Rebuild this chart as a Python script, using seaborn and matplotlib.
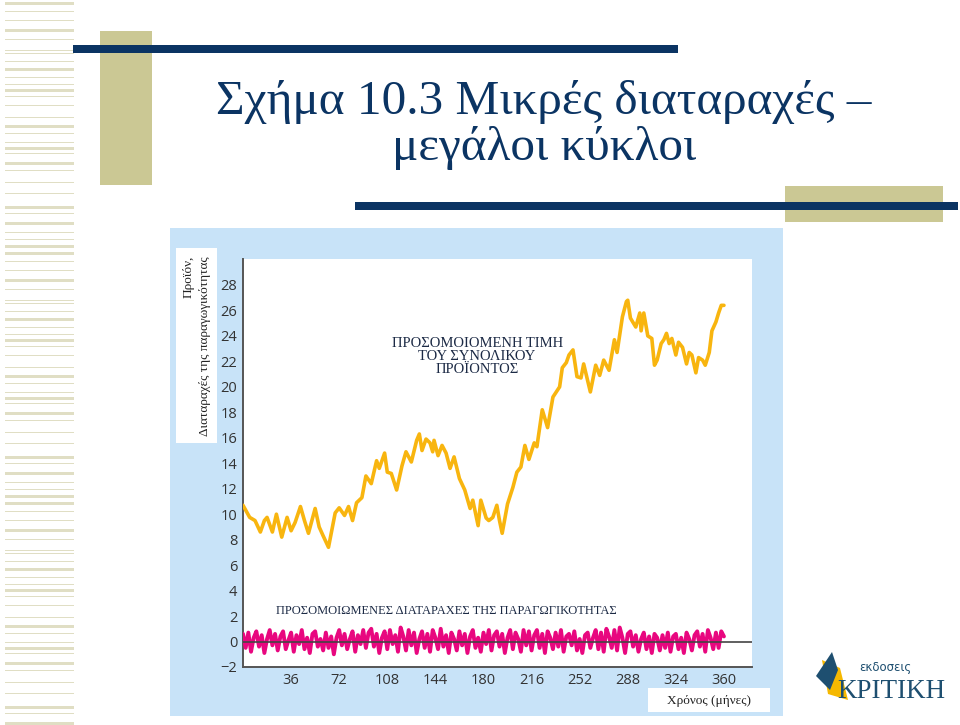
"""Σχήμα 10.3: μικρές διαταραχές παραγωγικότητας και μεγάλοι κύκλοι του προϊόντος."""
import matplotlib
matplotlib.use("Agg")
import matplotlib.pyplot as plt
from matplotlib.patches import Rectangle, Polygon
import seaborn as sns
import pandas as pd

# Προσομοιωμένη τιμή του συνολικού προϊόντος (μήνας, τιμή)
output_months = [0, 5, 9, 13, 16, 18, 22, 25, 29, 33, 36, 39, 43, 46, 49, 54, 57, 60,
                 64, 69, 72, 76, 79, 82, 85, 89, 92, 96, 100, 102, 106, 108, 111, 115,
                 119, 122, 126, 130, 132, 134, 137, 140, 142, 143, 146, 149, 152, 155,
                 158, 162, 166, 170, 172, 176, 178, 182, 184, 187, 190, 192, 194, 198,
                 202, 205, 208, 211, 214, 218, 220, 224, 228, 232, 237, 239, 242, 244,
                 247, 250, 253, 255, 260, 264, 267, 270, 274, 278, 280, 284, 287, 288,
                 290, 294, 297, 298, 300, 303, 306, 308, 310, 313, 315, 317, 319, 321,
                 324, 326, 329, 332, 334, 336, 339, 341, 344, 346, 349, 351, 354, 356,
                 358, 360]
output_values = [10.7, 9.75, 9.5, 8.6, 9.5, 9.75, 8.6, 10.0, 8.2, 9.75, 8.7, 9.35, 10.6,
                 9.5, 8.5, 10.45, 9.0, 8.3, 7.4, 10.1, 10.5, 9.9, 10.6, 9.5, 10.9, 11.3,
                 13.0, 12.4, 14.2, 13.6, 14.8, 13.3, 13.2, 11.9, 13.8, 14.9, 14.1, 15.8,
                 16.3, 15.0, 15.9, 15.6, 14.9, 15.8, 14.6, 15.4, 14.8, 13.6, 14.5, 12.8,
                 11.9, 10.45, 11.1, 9.1, 11.1, 9.7, 9.5, 9.75, 10.7, 9.5, 8.5, 10.8,
                 12.1, 13.3, 13.7, 15.4, 14.3, 15.6, 15.3, 18.2, 16.8, 19.2, 20.0, 21.5,
                 21.9, 22.5, 22.9, 20.8, 20.7, 21.8, 19.6, 21.7, 20.9, 22.1, 21.3, 23.7,
                 22.7, 25.5, 26.7, 26.8, 25.4, 24.7, 25.8, 24.4, 25.8, 24.0, 23.8, 21.7,
                 22.1, 23.4, 23.7, 24.2, 23.4, 23.8, 22.5, 23.5, 23.1, 21.8, 22.7, 22.5,
                 21.1, 22.3, 22.1, 21.7, 22.7, 24.4, 25.1, 25.8, 26.4, 26.4]

# Προσομοιωμένες διαταραχές της παραγωγικότητας (κάθε δύο μήνες, 0..360)
shock_months = list(range(0, 361, 2))
shock_values = [
    0.6, -0.5, 0.7, -0.8, 0.3, 0.8, -0.4, 0.5, -0.9, 0.2,
    0.9, -0.3, 0.6, -0.7, 0.4, 0.8, -0.6, 0.1, 0.7, -0.8,
    0.5, -0.2, 0.9, -0.6, 0.3, -0.9, 0.6, 0.8, -0.4, 0.2,
    -0.7, 0.7, -0.5, 0.4, -1.0, 0.3, 0.9, -0.3, 0.6, -0.6,
    0.2, 0.8, -0.8, 0.5, -0.2, 0.9, -0.5, 0.7, 1.0, -0.4,
    0.6, -0.9, 0.3, 0.8, -0.6, 0.9, -0.2, 0.5, -0.8, 1.1,
    0.4, -0.7, 0.9, -0.3, 0.7, -0.9, 0.2, 0.8, -0.5, 0.6,
    -0.8, 0.9, 0.3, -0.6, 1.0, -0.4, 0.5, -0.9, 0.7, 0.2,
    -0.7, 0.8, -0.3, 0.6, -0.9, 0.4, 0.9, -0.5, 0.3, -0.8,
    0.7, -0.2, 0.9, -0.7, 0.5, 0.8, -0.4, 0.6, -0.9, 0.3,
    0.9, -0.6, 0.7, 0.2, -0.8, 0.9, -0.3, 0.8, -0.7, 0.5,
    0.9, -0.5, 0.6, -0.9, 0.8, 0.3, -0.6, 0.7, -0.4, 0.9,
    -0.8, 0.4, 0.6, -0.3, 0.8, -0.7, 0.2, -0.9, 0.5, 0.7,
    -0.5, 0.3, 0.9, -0.6, 0.7, -0.8, 1.0, 0.4, -0.5, 0.9,
    -0.7, 1.1, 0.3, -0.9, 0.6, 0.8, -0.4, 0.5, -0.8, 0.2,
    0.7, -0.6, 0.4, -0.9, 0.6, 0.3, -0.7, 0.5, -0.5, 0.7,
    -0.8, 0.4, 0.6, -0.6, 0.3, -0.9, 0.7, 0.2, -0.7, 0.5,
    0.8, -0.4, 0.6, -0.8, 0.9, 0.3, -0.6, 0.7, -0.5, 0.8,
    0.4,
]

x_ticks = [36, 72, 108, 144, 180, 216, 252, 288, 324, 360]
y_ticks = list(range(-2, 29, 2))
y_tick_labels = ["\u22122"] + [str(v) for v in y_ticks[1:]]

title_lines = ["Σχήμα 10.3 Μικρές διαταραχές \u2013", "μεγάλοι κύκλοι"]
ylabel_lines = ["Προϊόν,", "Διαταραχές της παραγωγικότητας"]
xlabel = "Χρόνος (μήνες)"
output_note = "ΠΡΟΣΟΜΟΙΟΜΕΝΗ ΤΙΜΗ\nΤΟΥ ΣΥΝΟΛΙΚΟΥ\nΠΡΟΪΟΝΤΟΣ"
shock_note = "ΠΡΟΣΟΜΟΙΩΜΕΝΕΣ ΔΙΑΤΑΡΑΧΕΣ ΤΗΣ ΠΑΡΑΓΩΓΙΚΟΤΗΤΑΣ"

output_df = pd.DataFrame({"month": output_months, "value": output_values})
shock_df = pd.DataFrame({"month": shock_months, "value": shock_values})

sns.set_style("white")
plt.rcParams["font.family"] = ["Liberation Serif", "DejaVu Serif"]

NAVY = "#0b3463"
TAN = "#cbc894"
STRIPE = "#e0dec4"
PANEL = "#c8e3f8"
YELLOW = "#f8b50f"
MAGENTA = "#e8077f"

W, H = 960, 725
fig = plt.figure(figsize=(W / 100, H / 100), dpi=100)

# φόντο διαφάνειας σε συντεταγμένες pixel
bg = fig.add_axes([0, 0, 1, 1], zorder=0)
bg.set_xlim(0, W)
bg.set_ylim(H, 0)
bg.axis("off")

# ρίγες αριστερά
stripe_pattern = [(3, 3), (11, 1), (20, 1), (30, 3), (39, 1), (50, 1), (53, 1), (61, 1),
                  (69, 3), (77, 1), (84, 1), (90, 3), (96, 1), (105, 1), (117, 1), (126, 3),
                  (133, 1), (142, 1), (148, 3), (153, 1), (163, 3), (170, 1), (182, 1),
                  (193, 1), (207, 3), (213, 1), (223, 3), (232, 1), (239, 1), (246, 3)]
for offset in (0, 250, 500):
    for y, h in stripe_pattern:
        if y + offset < H:
            bg.add_patch(Rectangle((5, y + offset - h / 2), 69, h, color=STRIPE, lw=0))

bg.add_patch(Rectangle((100, 31), 52, 154, color=TAN, lw=0))
bg.add_patch(Rectangle((73, 45), 605, 8, color=NAVY, lw=0))
bg.add_patch(Rectangle((785, 186), 158, 36, color=TAN, lw=0))
bg.add_patch(Rectangle((355, 202), 603, 8, color=NAVY, lw=0))

bg.text(544, 102, title_lines[0], ha="center", va="center", fontsize=35.5, color=NAVY)
bg.text(544, 148, title_lines[1], ha="center", va="center", fontsize=35.5, color=NAVY)

# γαλάζιο πλαίσιο και λευκά κουτιά
bg.add_patch(Rectangle((170, 228), 613, 488, color=PANEL, lw=0))
bg.add_patch(Rectangle((176, 248), 41, 195, color="white", lw=0))
bg.add_patch(Rectangle((648, 688), 122, 24, color="white", lw=0))

bg.text(189, 256, ylabel_lines[0], rotation=90, rotation_mode="anchor",
        ha="right", va="center", fontsize=9.5, color="#222222")
bg.text(205, 256, ylabel_lines[1], rotation=90, rotation_mode="anchor",
        ha="right", va="center", fontsize=9.5, color="#222222")
bg.text(709, 701, xlabel, ha="center", va="center", fontsize=9.5, color="#222222")

# λογότυπο εκδότη
bg.add_patch(Polygon([(822, 660), (840, 668), (848, 700), (828, 694)], color="#f5b800", lw=0))
bg.add_patch(Polygon([(816, 676), (832, 652), (838, 670), (830, 690)], color="#1e4f70", lw=0))
bg.text(885, 668, "εκδοσεις", ha="center", va="center", fontsize=8.5,
        family=["DejaVu Sans"], color="#1e4f70")
bg.text(891, 692, "ΚΡΙΤΙΚΗ", ha="center", va="center", fontsize=19.5, color="#1e4f70")

# διάγραμμα
ax = fig.add_axes([243 / W, (H - 667) / H, 509 / W, 408 / H], zorder=2)
ax.set_facecolor("white")
sns.lineplot(data=shock_df, x="month", y="value", ax=ax, color=MAGENTA,
             linewidth=2.8, zorder=3)
ax.axhline(0, color="#444444", linewidth=1.2, zorder=4)
sns.lineplot(data=output_df, x="month", y="value", ax=ax, color=YELLOW,
             linewidth=2.6, zorder=3)

ax.set_xlim(0, 381)
ax.set_ylim(-2, 30.04)
ax.set_xticks(x_ticks)
ax.set_yticks(y_ticks)
ax.set_yticklabels(y_tick_labels)
ax.set_xlabel("")
ax.set_ylabel("")
for side in ("top", "right"):
    ax.spines[side].set_visible(False)
for side in ("left", "bottom"):
    ax.spines[side].set_color("#555555")
    ax.spines[side].set_linewidth(1.4)
ax.tick_params(direction="in", length=5, width=1, color="#666666",
               labelsize=10.5, labelcolor="#333333", pad=4)
for lab in ax.get_xticklabels() + ax.get_yticklabels():
    lab.set_family(["Open Sans", "DejaVu Sans"])

ax.text(0.46, 0.76, output_note, transform=ax.transAxes, ha="center", va="center",
        fontsize=10.5, color="#1c2a45", linespacing=1.0)
ax.text(152, 2.43, shock_note, ha="center", va="center", fontsize=9.0, color="#1c2a45")

fig.savefig("out.png", dpi=100)
